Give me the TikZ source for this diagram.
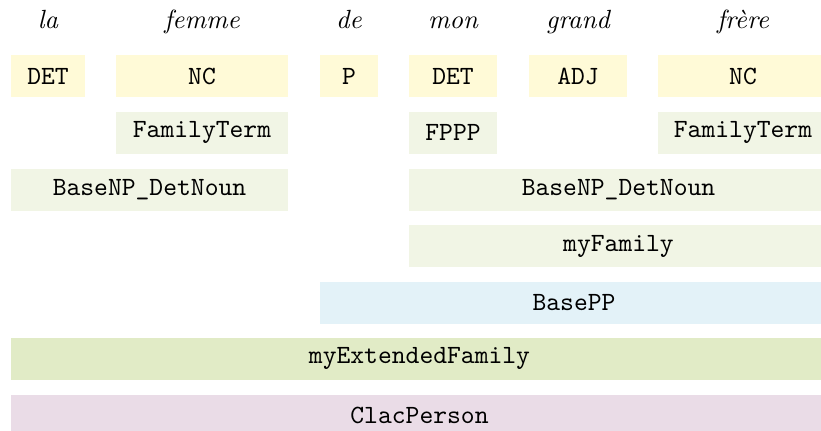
\documentclass[tikz,border=0pt]{standalone}
\definecolor{posY}{HTML}{FFFAD7}
\definecolor{paleG}{HTML}{F1F5E5}
\definecolor{lblue}{HTML}{E3F2F8}
\definecolor{midG}{HTML}{E1EBC6}
\definecolor{pinkC}{HTML}{EADCE7}
\def\pu{0.38pt}
\begin{document}
\begin{tikzpicture}[x=0.38pt,y=-0.38pt,
  tag/.style={inner sep=0pt, minimum height=42*\pu, font=\ttfamily, anchor=center},
  word/.style={anchor=base, font=\itshape}]
\useasboundingbox (0,0) rectangle (821,431);
% words
\node[word] (w1) at (48,28) {la};
\node[word] (w2) at (202,28) {femme};
\node[word] (w3) at (349,28) {de};
\node[word] (w4) at (453,28) {mon};
\node[word] (w5) at (578,28) {grand};
\node[word] (w6) at (743,28) {frère};
% POS row
\node[tag, fill=posY, minimum width=74*\pu] (p1) at (48,76) {DET};
\node[tag, fill=posY, minimum width=172*\pu] (p2) at (202,76) {NC};
\node[tag, fill=posY, minimum width=58*\pu] (p3) at (349,76) {P};
\node[tag, fill=posY, minimum width=88*\pu] (p4) at (453,76) {DET};
\node[tag, fill=posY, minimum width=98*\pu] (p5) at (578,76) {ADJ};
\node[tag, fill=posY, minimum width=170*\pu] (p6) at (743,76) {NC};
% row 2
\node[tag, fill=paleG, minimum width=172*\pu] (f1) at (202,132.5) {FamilyTerm};
\node[tag, fill=paleG, minimum width=88*\pu] (f2) at (453,132.5) {FPPP};
\node[tag, fill=paleG, minimum width=170*\pu] (f3) at (743,132.5) {FamilyTerm};
% row 3
\node[tag, fill=paleG, minimum width=277*\pu] (b1) at (149.5,189.5) {BaseNP\_DetNoun};
\node[tag, fill=paleG, minimum width=419*\pu] (b2) at (618.5,189.5) {BaseNP\_DetNoun};
% row 4
\node[tag, fill=paleG, minimum width=419*\pu] (mf) at (618.5,246) {myFamily};
% row 5
\node[tag, fill=lblue, minimum width=508*\pu] (pp) at (574,302.5) {BasePP};
% row 6
\node[tag, fill=midG, minimum width=817*\pu] (ef) at (419.5,358.5) {myExtendedFamily};
% row 7
\node[tag, fill=pinkC, minimum width=817*\pu] (cp) at (419.5,415.5) {ClacPerson};
\end{tikzpicture}
\end{document}
